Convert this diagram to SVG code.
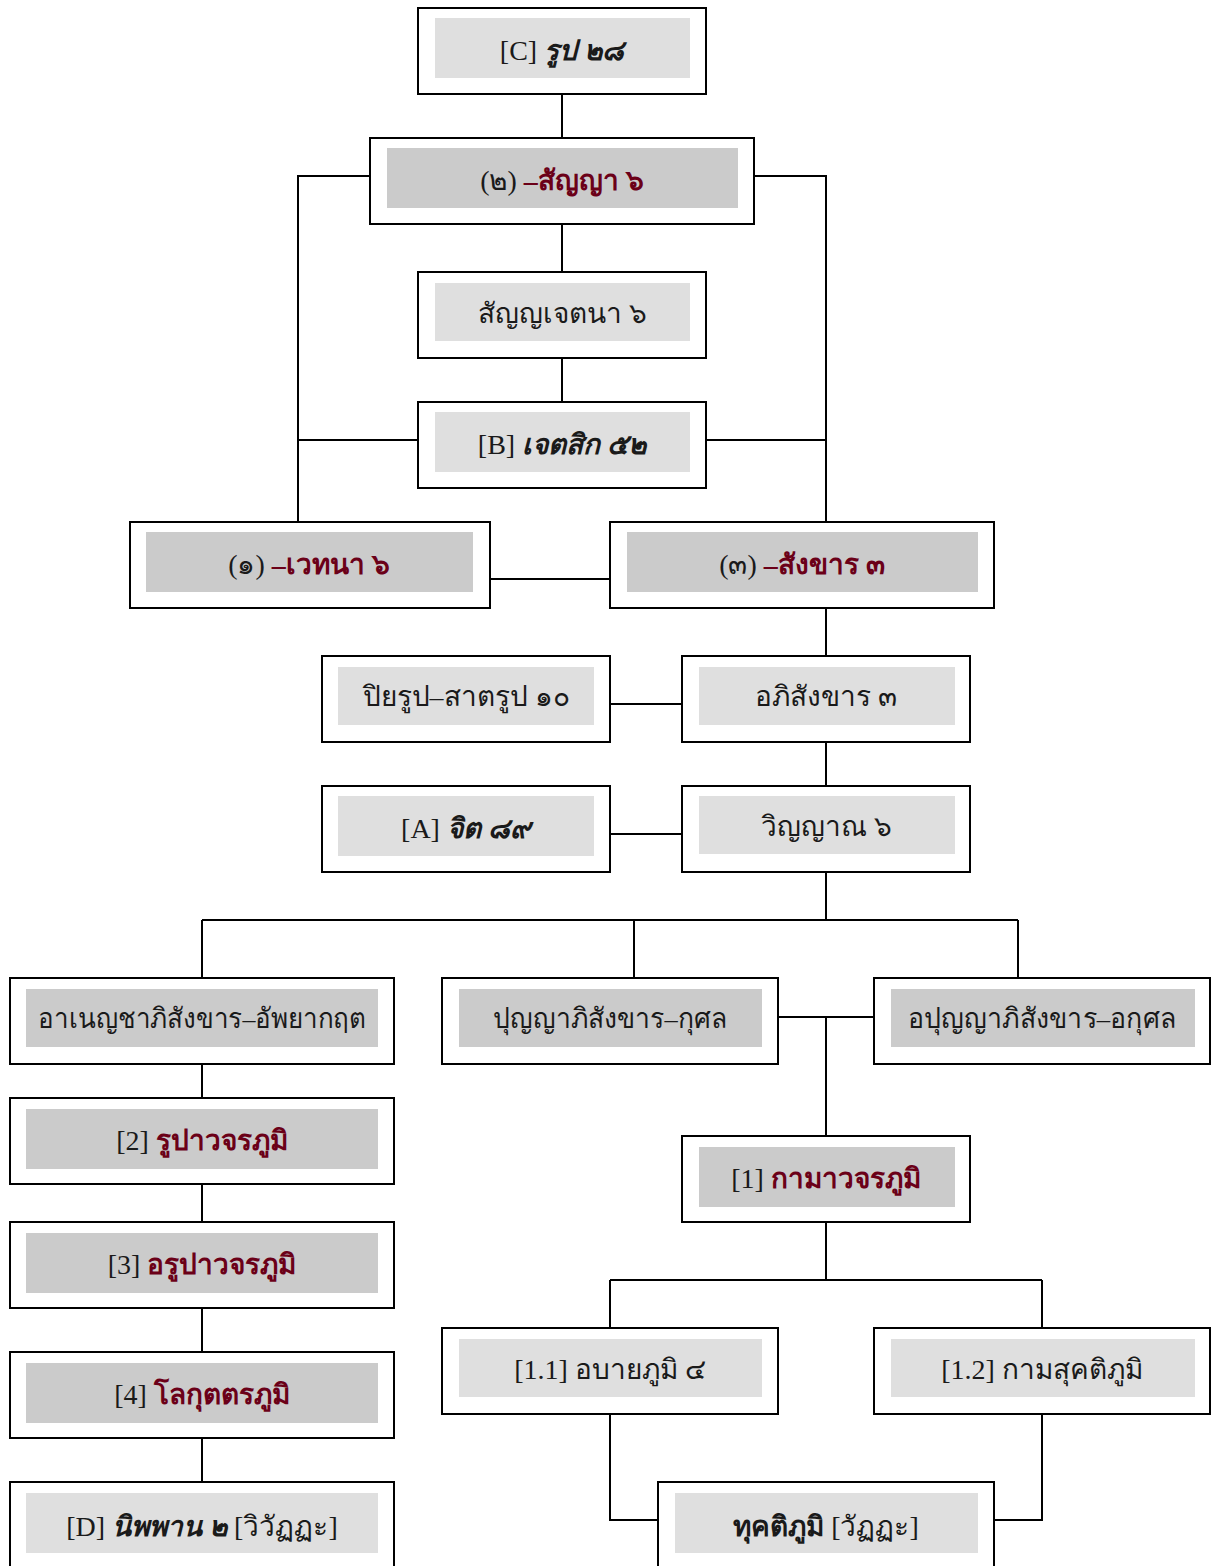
<svg xmlns="http://www.w3.org/2000/svg" width="1213" height="1566" viewBox="0 0 1213 1566">
<style>
.o{fill:#fff;stroke:#000;stroke-width:2}
.l{fill:#dfdfdf}
.d{fill:#cbcbcb}
.c{fill:none;stroke:#000;stroke-width:2}
text{font-family:"Liberation Serif","Noto Sans","DejaVu Serif",serif;font-size:28px;text-anchor:middle;fill:#1a1a1a}
.b{font-weight:bold}
.i{font-style:italic;font-weight:bold}
.r{fill:#6b0018;font-weight:bold}
</style>
<rect width="1213" height="1566" fill="#fff"/>
<g id="connectors">
<path class="c" d="M562 94V138M562 224V272M562 358V402"/>
<path class="c" d="M370 176H298V522M418 440H298"/>
<path class="c" d="M754 176H826V522M706 440H826"/>
<path class="c" d="M490 579H610"/>
<path class="c" d="M826 608V656M610 704H682M826 742V786M610 834H682"/>
<path class="c" d="M826 872V920M202 920H1018M202 920V978M634 920V978M1018 920V978"/>
<path class="c" d="M778 1017H874M826 1017V1136"/>
<path class="c" d="M202 1064V1098M202 1184V1222M202 1308V1352M202 1438V1482"/>
<path class="c" d="M826 1222V1280M610 1280H1042M610 1280V1328M1042 1280V1328"/>
<path class="c" d="M610 1414V1520H658M1042 1414V1520H994"/>
</g>
<g id="nC"><rect class="o" x="418" y="8" width="288" height="86"/><rect class="l" x="435" y="18" width="255" height="60"/><text x="562" y="60">[C] <tspan class="i">รูป ๒๘</tspan></text></g>
<g id="nSanya"><rect class="o" x="370" y="138" width="384" height="86"/><rect class="d" x="387" y="148" width="351" height="60"/><text x="562" y="190">(๒) <tspan class="r">–สัญญา ๖</tspan></text></g>
<g id="nSanyaCetana"><rect class="o" x="418" y="272" width="288" height="86"/><rect class="l" x="435" y="283" width="255" height="58"/><text x="562" y="323">สัญญเจตนา ๖</text></g>
<g id="nB"><rect class="o" x="418" y="402" width="288" height="86"/><rect class="l" x="435" y="412" width="255" height="60"/><text x="562" y="454">[B] <tspan class="i">เจตสิก ๕๒</tspan></text></g>
<g id="nVedana"><rect class="o" x="130" y="522" width="360" height="86"/><rect class="d" x="146" y="532" width="327" height="60"/><text x="309" y="574">(๑) <tspan class="r">–เวทนา ๖</tspan></text></g>
<g id="nSankhara"><rect class="o" x="610" y="522" width="384" height="86"/><rect class="d" x="627" y="532" width="351" height="60"/><text x="802" y="574">(๓) <tspan class="r">–สังขาร ๓</tspan></text></g>
<g id="nPiya"><rect class="o" x="322" y="656" width="288" height="86"/><rect class="l" x="338" y="667" width="256" height="58"/><text x="466" y="706">ปิยรูป–สาตรูป ๑๐</text></g>
<g id="nAbhi"><rect class="o" x="682" y="656" width="288" height="86"/><rect class="l" x="699" y="667" width="256" height="58"/><text x="826" y="706">อภิสังขาร ๓</text></g>
<g id="nA"><rect class="o" x="322" y="786" width="288" height="86"/><rect class="l" x="338" y="796" width="256" height="60"/><text x="466" y="838">[A] <tspan class="i">จิต ๘๙</tspan></text></g>
<g id="nVinnana"><rect class="o" x="682" y="786" width="288" height="86"/><rect class="l" x="699" y="796" width="256" height="58"/><text x="826" y="836">วิญญาณ ๖</text></g>
<g id="nAnenja"><rect class="o" x="10" y="978" width="384" height="86"/><rect class="d" x="26" y="989" width="352" height="58"/><text x="202" y="1028" textLength="328" lengthAdjust="spacingAndGlyphs">อาเนญชาภิสังขาร–อัพยากฤต</text></g>
<g id="nPunya"><rect class="o" x="442" y="978" width="336" height="86"/><rect class="d" x="459" y="989" width="303" height="58"/><text x="610" y="1028" textLength="234" lengthAdjust="spacingAndGlyphs">ปุญญาภิสังขาร–กุศล</text></g>
<g id="nApunya"><rect class="o" x="874" y="978" width="336" height="86"/><rect class="d" x="891" y="989" width="304" height="58"/><text x="1042" y="1028" textLength="268" lengthAdjust="spacingAndGlyphs">อปุญญาภิสังขาร–อกุศล</text></g>
<g id="n2"><rect class="o" x="10" y="1098" width="384" height="86"/><rect class="d" x="26" y="1109" width="352" height="60"/><text x="202" y="1150">[2] <tspan class="r">รูปาวจรภูมิ</tspan></text></g>
<g id="n1"><rect class="o" x="682" y="1136" width="288" height="86"/><rect class="d" x="699" y="1147" width="256" height="60"/><text x="826" y="1188">[1] <tspan class="r">กามาวจรภูมิ</tspan></text></g>
<g id="n3"><rect class="o" x="10" y="1222" width="384" height="86"/><rect class="d" x="26" y="1233" width="352" height="60"/><text x="202" y="1274">[3] <tspan class="r">อรูปาวจรภูมิ</tspan></text></g>
<g id="n11"><rect class="o" x="442" y="1328" width="336" height="86"/><rect class="l" x="459" y="1339" width="303" height="58"/><text x="610" y="1379">[1.1] อบายภูมิ ๔</text></g>
<g id="n12"><rect class="o" x="874" y="1328" width="336" height="86"/><rect class="l" x="891" y="1339" width="304" height="58"/><text x="1042" y="1379">[1.2] กามสุคติภูมิ</text></g>
<g id="n4"><rect class="o" x="10" y="1352" width="384" height="86"/><rect class="d" x="26" y="1363" width="352" height="60"/><text x="202" y="1404">[4] <tspan class="r">โลกุตตรภูมิ</tspan></text></g>
<g id="nD"><rect class="o" x="10" y="1482" width="384" height="90"/><rect class="l" x="26" y="1493" width="352" height="60"/><text x="202" y="1536">[D] <tspan class="i">นิพพาน ๒</tspan> [วิวัฏฏะ]</text></g>
<g id="nDukkati"><rect class="o" x="658" y="1482" width="336" height="90"/><rect class="l" x="675" y="1493" width="303" height="60"/><text x="826" y="1536"><tspan class="b">ทุคติภูมิ</tspan>  [วัฏฏะ]</text></g>
</svg>
